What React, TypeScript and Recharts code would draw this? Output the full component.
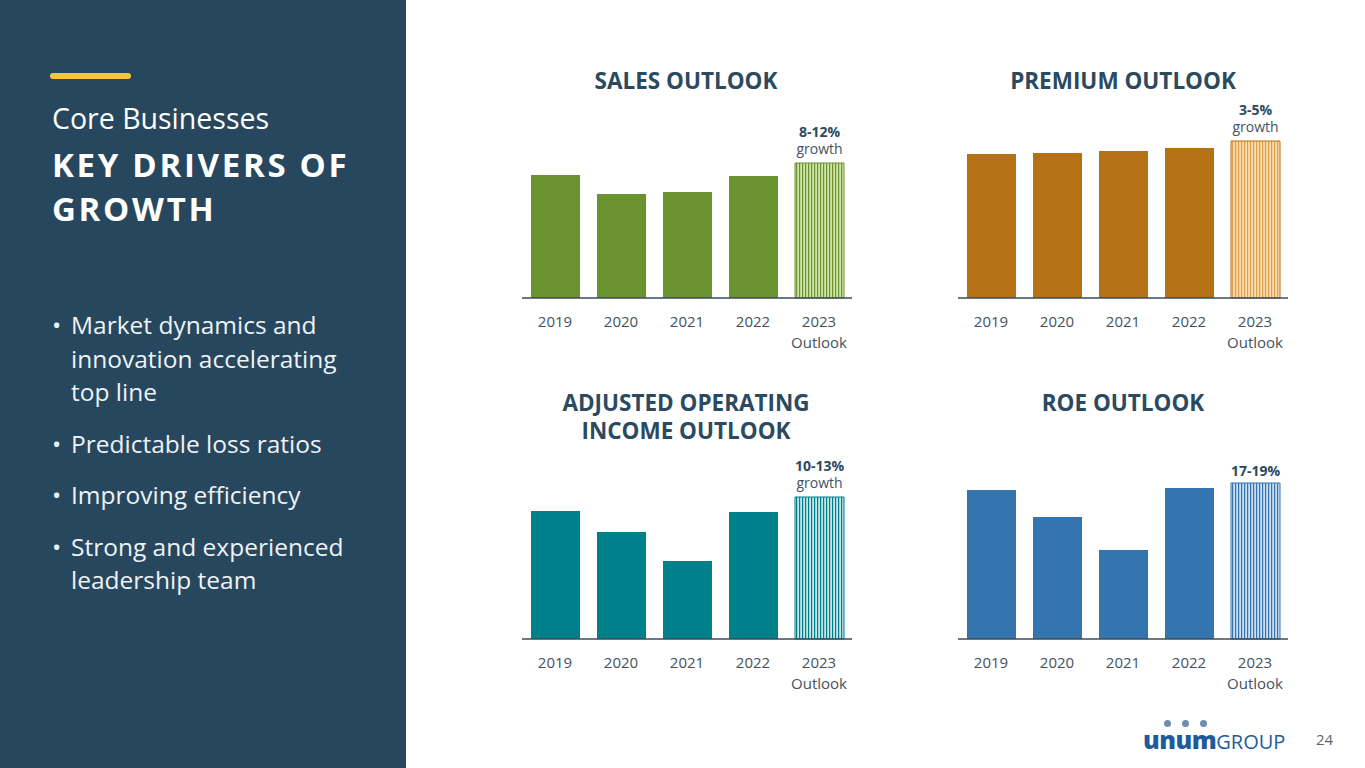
import React from 'react';
import { BarChart, Bar, XAxis, YAxis, Cell, LabelList } from 'recharts';

const years = ['2019', '2020', '2021', '2022', '2023'];
const yearNotes = ['', '', '', '', 'Outlook'];

const salesValues = [123, 104, 106, 122, 135];
const premiumValues = [144, 145, 147, 150, 157];
const incomeValues = [128, 107, 78, 127, 142];
const roeValues = [149, 122, 89, 151, 156];

const salesOutlook = ['8-12%', 'growth'];
const premiumOutlook = ['3-5%', 'growth'];
const incomeOutlook = ['10-13%', 'growth'];
const roeOutlook = ['17-19%', ''];

const bullets = [
  ['Market dynamics and', 'innovation accelerating', 'top line'],
  ['Predictable loss ratios'],
  ['Improving efficiency'],
  ['Strong and experienced', 'leadership team'],
];

const FONT = '"Open Sans", "Noto Sans", sans-serif';
const NAVY = '#2b4a5f';
const TICK = '#44525e';

const YearTick = (props: any) => {
  const { x, y, payload } = props;
  const note = yearNotes[payload.index];
  return (
    <g>
      <text x={x} y={y + 15} textAnchor="middle" dominantBaseline="central" fontSize={15} fill={TICK} fontFamily={FONT}>
        {payload.value}
      </text>
      {note ? (
        <text x={x} y={y + 36} textAnchor="middle" dominantBaseline="central" fontSize={15} fill={TICK} fontFamily={FONT}>
          {note}
        </text>
      ) : null}
    </g>
  );
};

type ChartProps = {
  values: number[];
  outlook: string[];
  color: string;
  patternId: string;
  left: number;
  top: number;
};

const OutlookChart = ({ values, outlook, color, patternId, left, top }: ChartProps) => {
  const data = years.map((y, i) => ({
    year: y,
    value: values[i],
    pct: i === 4 ? outlook[0] : '',
    sub: i === 4 ? outlook[1] : '',
  }));
  const hasSub = outlook[1] !== '';
  return (
    <div style={{ position: 'absolute', left, top }}>
      <BarChart width={370} height={270} data={data} margin={{ top: 50, right: 20, left: 20, bottom: 0 }} barSize={49}>
        <YAxis hide domain={[0, 160]} />
        <XAxis
          dataKey="year"
          axisLine={{ stroke: '#3b4b58', strokeWidth: 1.5 }}
          tickLine={false}
          height={60}
          interval={0}
          tick={<YearTick />}
        />
        <Bar dataKey="value" fill={color} isAnimationActive={false}>
          {data.map((d, i) => (
            <Cell
              key={d.year}
              fill={i === 4 ? `url(#${patternId})` : color}
              stroke={i === 4 ? color : 'none'}
              strokeWidth={i === 4 ? 1 : 0}
            />
          ))}
          <LabelList
            dataKey="pct"
            content={(p: any) => {
              if (!p.value) return null;
              const cx = Number(p.x) + Number(p.width) / 2;
              return (
                <text
                  x={cx}
                  y={Number(p.y) - (hasSub ? 32 : 13)}
                  textAnchor="middle"
                  dominantBaseline="central"
                  fontSize={14}
                  fontWeight={700}
                  fill={NAVY}
                  fontFamily={FONT}
                >
                  {p.value}
                </text>
              );
            }}
          />
          <LabelList
            dataKey="sub"
            content={(p: any) => {
              if (!p.value) return null;
              const cx = Number(p.x) + Number(p.width) / 2;
              return (
                <text
                  x={cx}
                  y={Number(p.y) - 15}
                  textAnchor="middle"
                  dominantBaseline="central"
                  fontSize={14}
                  fill={TICK}
                  fontFamily={FONT}
                >
                  {p.value}
                </text>
              );
            }}
          />
        </Bar>
      </BarChart>
    </div>
  );
};

const Title = ({ lines, cx, top }: { lines: string[]; cx: number; top: number }) => (
  <div
    style={{
      position: 'absolute',
      left: cx - 200,
      width: 400,
      top,
      textAlign: 'center',
      fontFamily: FONT,
      fontWeight: 700,
      fontSize: 22.5,
      lineHeight: '28px',
      color: NAVY,
    }}
  >
    {lines.map((l) => (
      <div key={l}>{l}</div>
    ))}
  </div>
);

const Pattern = ({ id, dark, light }: { id: string; dark: string; light: string }) => (
  <pattern id={id} patternUnits="userSpaceOnUse" width={3} height={10}>
    <rect x={0} y={0} width={3} height={10} fill={light} />
    <rect x={0} y={0} width={1.2} height={10} fill={dark} />
  </pattern>
);

export default function App() {
  return (
    <div
      style={{
        position: 'absolute',
        left: 0,
        top: 0,
        width: 1365,
        height: 768,
        background: '#ffffff',
        overflow: 'hidden',
        fontFamily: FONT,
      }}
    >
      <svg width={0} height={0} style={{ position: 'absolute' }}>
        <defs>
          <Pattern id="hatchGreen" dark="#6a9330" light="#cfe6a8" />
          <Pattern id="hatchOrange" dark="#e0a04a" light="#fbdcae" />
          <Pattern id="hatchTeal" dark="#00808a" light="#c4e6e8" />
          <Pattern id="hatchBlue" dark="#3475b0" light="#c9def3" />
        </defs>
      </svg>

      {/* Left panel */}
      <div style={{ position: 'absolute', left: 0, top: 0, width: 406, height: 768, background: '#26475d' }}>
        <div style={{ position: 'absolute', left: 50, top: 73, width: 81, height: 6, borderRadius: 3, background: '#f2c53d' }} />
        <div style={{ position: 'absolute', left: 52, top: 99, fontSize: 28.5, color: '#ffffff', lineHeight: '38px' }}>
          Core Businesses
        </div>
        <div
          style={{
            position: 'absolute',
            left: 52,
            top: 143,
            fontSize: 33,
            fontWeight: 700,
            letterSpacing: 2.7,
            color: '#ffffff',
            lineHeight: '44px',
          }}
        >
          <div>KEY DRIVERS OF</div>
          <div>GROWTH</div>
        </div>
        <div style={{ position: 'absolute', left: 52, top: 308, color: '#eef2f5', fontSize: 24.5, lineHeight: '33.5px' }}>
          {bullets.map((b, i) => (
            <div key={i} style={{ position: 'relative', paddingLeft: 19, marginBottom: 18 }}>
              <span style={{ position: 'absolute', left: 0 }}>•</span>
              {b.map((l) => (
                <div key={l}>{l}</div>
              ))}
            </div>
          ))}
        </div>
      </div>

      <Title lines={['SALES OUTLOOK']} cx={686} top={67} />
      <Title lines={['PREMIUM OUTLOOK']} cx={1123} top={67} />
      <Title lines={['ADJUSTED OPERATING', 'INCOME OUTLOOK']} cx={686} top={389} />
      <Title lines={['ROE OUTLOOK']} cx={1123} top={389} />

      <OutlookChart values={salesValues} outlook={salesOutlook} color="#6a9330" patternId="hatchGreen" left={502} top={88} />
      <OutlookChart values={premiumValues} outlook={premiumOutlook} color="#b57115" patternId="hatchOrange" left={938} top={88} />
      <OutlookChart values={incomeValues} outlook={incomeOutlook} color="#00808a" patternId="hatchTeal" left={502} top={429} />
      <OutlookChart values={roeValues} outlook={roeOutlook} color="#3475b0" patternId="hatchBlue" left={938} top={429} />

      {/* Logo */}
      <div style={{ position: 'absolute', left: 1143, top: 720, height: 32 }}>
        <div style={{ position: 'absolute', left: 20.5, top: 0, width: 7, height: 7, borderRadius: 4, background: '#6d8db0' }} />
        <div style={{ position: 'absolute', left: 38.5, top: 0, width: 7, height: 7, borderRadius: 4, background: '#6d8db0' }} />
        <div style={{ position: 'absolute', left: 56.5, top: 0, width: 7, height: 7, borderRadius: 4, background: '#6d8db0' }} />
        <div style={{ position: 'absolute', left: 0, top: 4, whiteSpace: 'nowrap', color: '#1e5b9c', lineHeight: '30px' }}>
          <span style={{ fontSize: 25, fontWeight: 800, letterSpacing: -0.5 }}>unum</span>
          <span style={{ fontSize: 20, fontWeight: 400 }}>GROUP</span>
        </div>
      </div>
      <div style={{ position: 'absolute', left: 1316, top: 729, fontSize: 15, color: '#5c6670' }}>24</div>
    </div>
  );
}
